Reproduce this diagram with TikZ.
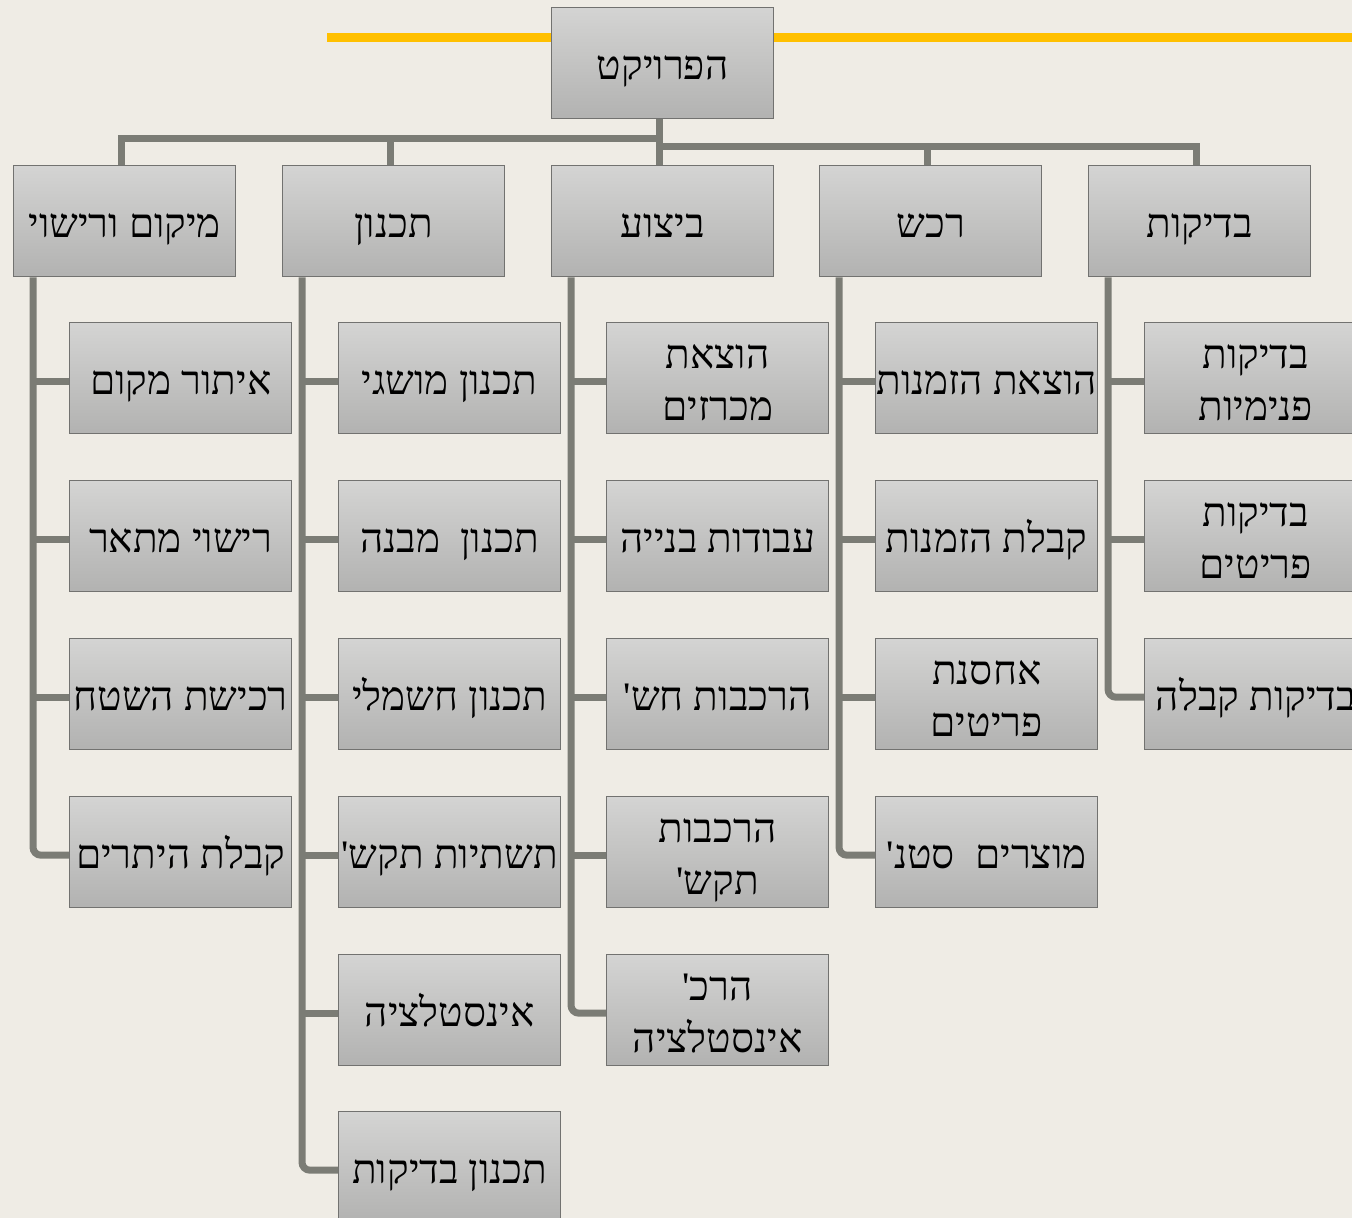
\documentclass[tikz,border=0pt]{standalone}
\usepackage{fontspec}
\TeXXeTstate=1
\newfontfamily\hebfont[Script=Hebrew]{Liberation Serif}
\newcommand{\hb}[1]{\beginR #1\endR}
\definecolor{bgcol}{HTML}{EFECE5}
\definecolor{conncol}{HTML}{7B7C75}
\definecolor{boxtop}{HTML}{D4D4D3}
\definecolor{boxbot}{HTML}{B2B2B1}
\definecolor{boxline}{HTML}{727270}
\definecolor{goldline}{HTML}{FFC000}
\tikzset{
  wbs/.style={draw=boxline, line width=1.4pt, top color=boxtop, bottom color=boxbot,
    minimum width=222pt, minimum height=111pt, inner sep=0pt, anchor=north west,
    align=center, font=\hebfont\fontsize{40.5}{52}\selectfont,
    text height=32pt, text depth=0pt},
  wbstwo/.style={wbs, text height=84pt, text depth=0pt},
  conn/.style={draw=conncol, line width=7pt},
  trunk/.style={conn, rounded corners=8pt}
}
\begin{document}
\begin{tikzpicture}[x=1pt,y=-1pt]
\useasboundingbox (0,0) rectangle (1352,1218);
\fill[bgcol] (0,0) rectangle (1352,1218);
\draw[goldline, line width=9pt] (327,37) -- (1352,37);
% root
\node[wbs] (root) at (551,7) {\hb{הפרויקט}};
% level 1
\node[wbs] (b1) at (13,165) {\hb{מיקום ורישוי}};
\node[wbs] (b2) at (282,165) {\hb{תכנון}};
\node[wbs] (b3) at (551,165) {\hb{ביצוע}};
\node[wbs] (b4) at (819,165) {\hb{רכש}};
\node[wbs] (b5) at (1088,165) {\hb{בדיקות}};
% column 1
\node[wbs] (c1a) at (69,322) {\hb{איתור מקום}};
\node[wbs] (c1b) at (69,480) {\hb{רישוי מתאר}};
\node[wbs] (c1c) at (69,638) {\hb{רכישת השטח}};
\node[wbs] (c1d) at (69,796) {\hb{קבלת היתרים}};
% column 2
\node[wbs] (c2a) at (338,322) {\hb{תכנון מושגי}};
\node[wbs] (c2b) at (338,480) {\hb{תכנון\ \ מבנה}};
\node[wbs] (c2c) at (338,638) {\hb{תכנון חשמלי}};
\node[wbs] (c2d) at (338,796) {\hb{תשתיות תקש'}};
\node[wbs] (c2e) at (338,954) {\hb{אינסטלציה}};
\node[wbs] (c2f) at (338,1111) {\hb{תכנון בדיקות}};
% column 3
\node[wbstwo] (c3a) at (606,322) {\hb{הוצאת}\\\hb{מכרזים}};
\node[wbs] (c3b) at (606,480) {\hb{עבודות בנייה}};
\node[wbs] (c3c) at (606,638) {\hb{הרכבות חש'}};
\node[wbstwo] (c3d) at (606,796) {\hb{הרכבות}\\\hb{תקש'}};
\node[wbstwo] (c3e) at (606,954) {\hb{הרכ'}\\\hb{אינסטלציה}};
% column 4
\node[wbs] (c4a) at (875,322) {\hb{הוצאת הזמנות}};
\node[wbs] (c4b) at (875,480) {\hb{קבלת הזמנות}};
\node[wbstwo] (c4c) at (875,638) {\hb{אחסנת}\\\hb{פריטים}};
\node[wbs] (c4d) at (875,796) {\hb{מוצרים\ \ סטנ'}};
% column 5
\node[wbstwo] (c5a) at (1144,322) {\hb{בדיקות}\\\hb{פנימיות}};
\node[wbstwo] (c5b) at (1144,480) {\hb{בדיקות}\\\hb{פריטים}};
\node[wbs] (c5c) at (1144,638) {\hb{בדיקות קבלה}};
% top connectors
\coordinate (jl) at ([xshift=-3pt,yshift=-19.5pt]root.south);
\coordinate (jr) at ([xshift=-3pt,yshift=-27.5pt]root.south);
\draw[conn] ([xshift=-3pt]root.south) -- ([xshift=-3pt]b3.north);
\draw[conn] ([xshift=3.5pt]jl) -| ([xshift=-3.5pt]b1.north);
\draw[conn] (jl) -| ([xshift=-3.5pt]b2.north);
\draw[conn] ([xshift=-3.5pt]jr) -| ([xshift=-3.5pt]b4.north);
\draw[conn] (jr) -| ([xshift=-3.5pt]b5.north);
% trunks
\foreach \c/\last/\others in {1/c1d/{c1a,c1b,c1c}, 2/c2f/{c2a,c2b,c2c,c2d,c2e}, 3/c3e/{c3a,c3b,c3c,c3d}, 4/c4d/{c4a,c4b,c4c}, 5/c5c/{c5a,c5b}}{
  \coordinate (t\c) at ([xshift=20pt]b\c.south west);
  \draw[trunk] (t\c) |- ([yshift=-3pt]\last.west);
  \foreach \o in \others { \draw[conn] ([yshift=-3pt]\o.west) -- ([yshift=-3pt]\o.west -| t\c); }
}
\end{tikzpicture}
\end{document}
